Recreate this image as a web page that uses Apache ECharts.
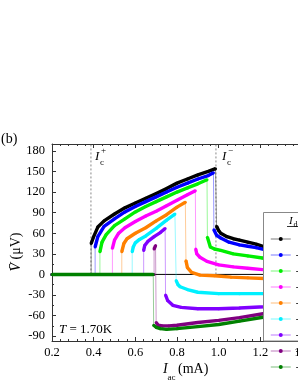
<!DOCTYPE html>
<html><head><meta charset="utf-8">
<script src="https://cdn.jsdelivr.net/npm/echarts@6/dist/echarts.min.js"></script>
<style>html,body{margin:0;padding:0;background:#fff}#c{width:298px;height:385px}</style>
</head><body><div id="c"></div>
<script>
// ---- data ----
const seriesNames  = ['0.00','-0.05','-0.10','-0.15','-0.20','-0.25','-0.30','-0.35','-0.40'];
const seriesColors = ['#000000','#0000ff','#00ee00','#ff00ff','#ff8000','#00f0ff','#8000ff','#800080','#008000'];

const black_posI = [0.388,0.40,0.42,0.45,0.50,0.55,0.60,0.65,0.70,0.75,0.80,0.85,0.90,0.95,0.985];
const black_posV = [45,55,69,78,88,97,104,111,118,125,133,139,145,150,154];
const black_negI = [0.99,1.00,1.01,1.04,1.07,1.10,1.14,1.18,1.22,1.26];
const black_negV = [70,64,60,55,52,50,47,44,40,38];

const blue_posI = [0.407,0.42,0.45,0.50,0.55,0.60,0.65,0.70,0.75,0.80,0.85,0.90,0.95,0.975];
const blue_posV = [40,55,70,81,91,99,106,113,120,127,133,139,144,148];
const blue_negI = [0.977,0.99,1.01,1.05,1.10,1.14,1.18,1.22,1.26];
const blue_negV = [65,57,53,47,43,41,39,36,34];

const green_posI = [0.43,0.44,0.46,0.50,0.55,0.60,0.65,0.70,0.75,0.80,0.85,0.90,0.944];
const green_posV = [33,47,58,71,81,91,99,106,113,120,126,132,138];
const green_negI = [0.946,0.96,0.98,1.01,1.07,1.14,1.21,1.26];
const green_negV = [54,40,37,35,30,27,24,22];

const magenta_posI = [0.49,0.50,0.52,0.55,0.60,0.65,0.70,0.75,0.80,0.85,0.888];
const magenta_posV = [38,50,60,68,77,85,92,100,108,116,122];
const magenta_negI = [0.89,0.895,0.91,0.944,1.00,1.07,1.14,1.21,1.26];
const magenta_negV = [37,30,25,19,14,11,9,7,6];

const orange_posI = [0.535,0.545,0.56,0.60,0.65,0.70,0.75,0.80,0.84];
const orange_posV = [33,45,52,60,68,78,87,98,105];
const orange_negI = [0.843,0.85,0.87,0.91,0.98,1.06,1.14,1.22,1.26];
const orange_negV = [20,10,3,-1,-2,-4,-5,-6,-6];

const cyan_posI = [0.585,0.59,0.60,0.62,0.65,0.70,0.75,0.79];
const cyan_posV = [33,40,46,51,56,67,79,88];
const cyan_negI = [0.796,0.805,0.815,0.85,0.90,1.00,1.10,1.22,1.26];
const cyan_negV = [-9,-15,-18,-22,-26,-28,-28,-28,-28];

const violet_posI = [0.64,0.645,0.66,0.69,0.72,0.743];
const violet_posV = [35,42,48,55,61,67];
const violet_negI = [0.745,0.755,0.78,0.82,0.90,1.00,1.10,1.22,1.26];
const violet_negV = [-30,-38,-45,-48,-50,-50,-49,-47,-46];

const purple_posI = [0.69,0.697];
const purple_posV = [37,42];
const purple_negI = [0.70,0.71,0.73,0.76,0.80,0.90,1.00,1.10,1.22,1.26];
const purple_negV = [-70,-74,-75,-75,-74,-70,-67,-63,-57,-56];

const dgreen_switchI = 0.686;
const dgreen_negI = [0.688,0.70,0.72,0.75,0.80,0.90,1.00,1.10,1.22,1.26];
const dgreen_negV = [-74,-77,-79,-80,-79,-76,-73,-68,-62,-60];

const icPlus = 0.387, icMinus = 0.987;
const xStart = 0.2, xEnd = 1.4;
const yTickLabels = [-90,-60,-30,0,30,60,90,120,150,180];
const yMinorTicks = [-75,-45,-15,15,45,75,105,135,165];

// ---- build ----
const zip = (a, b) => a.map((v, i) => [v, b[i]]);
const curves = [
  {pos: zip(black_posI, black_posV), neg: zip(black_negI, black_negV)},
  {pos: zip(blue_posI, blue_posV), neg: zip(blue_negI, blue_negV)},
  {pos: zip(green_posI, green_posV), neg: zip(green_negI, green_negV)},
  {pos: zip(magenta_posI, magenta_posV), neg: zip(magenta_negI, magenta_negV)},
  {pos: zip(orange_posI, orange_posV), neg: zip(orange_negI, orange_negV)},
  {pos: zip(cyan_posI, cyan_posV), neg: zip(cyan_negI, cyan_negV)},
  {pos: zip(violet_posI, violet_posV), neg: zip(violet_negI, violet_negV)},
  {pos: zip(purple_posI, purple_posV), neg: zip(purple_negI, purple_negV)},
  {pos: [], neg: zip(dgreen_negI, dgreen_negV), sw: dgreen_switchI}
];

const series = [];
series.push({type:'line', silent:true, symbol:'none', data:[[xStart,0],[xEnd,0]],
  lineStyle:{color:'#000', width:1}, z:1});
series.push({type:'line', silent:true, symbol:'none', data:[[icPlus,0],[icPlus,190]],
  lineStyle:{color:'#555', width:0.7, type:[2,2]}, z:1});
series.push({type:'line', silent:true, symbol:'none', data:[[icMinus,0],[icMinus,190]],
  lineStyle:{color:'#555', width:0.7, type:[2,2]}, z:1});

curves.forEach((c, k) => {
  const col = seriesColors[k];
  const sw = c.sw !== undefined ? c.sw : c.pos[0][0];
  const path = [[xStart,0],[sw,0]].concat(c.pos, c.neg);
  series.push({
    name: seriesNames[k], type:'line', data: path, symbol:'circle', symbolSize:3,
    showSymbol:true, color: col, itemStyle:{color: col},
    lineStyle:{color: col, width:1, opacity:0.4}, z: 2 + k*0.01
  });
  if (c.pos.length) series.push({type:'line', silent:true, symbol:'none', data:c.pos,
    lineStyle:{color: col, width:3.4}, z: 3 + k*0.01});
  series.push({type:'line', silent:true, symbol:'none', data:c.neg,
    lineStyle:{color: col, width:3.4}, z: 3 + k*0.01});
  if (c.sw !== undefined) series.push({type:'line', silent:true, symbol:'none',
    data:[[xStart,0],[c.sw,0]], lineStyle:{color: col, width:3.5}, z: 4});
});

const serif = 'Liberation Serif';
const axisCol = '#333';
const chart = echarts.init(document.getElementById('c'), null, {renderer:'canvas'});
chart.setOption({
  animation:false,
  backgroundColor:'#fff',
  grid:{left:52, top:144, right:-4, bottom:44, outerBoundsMode:'none', containLabel:false},
  xAxis:[{
    type:'value', min:xStart, max:xEnd, interval:0.2, position:'bottom',
    axisLine:{show:true, onZero:false, lineStyle:{color:axisCol, width:1}},
    axisTick:{show:true, inside:true, length:4, lineStyle:{color:axisCol}},
    minorTick:{show:true, splitNumber:5, length:2, lineStyle:{color:axisCol}},
    axisLabel:{color:'#000', fontFamily:serif, fontSize:12.5, margin:5,
      formatter: v => v.toFixed(1), showMaxLabel:true, showMinLabel:true},
    splitLine:{show:false}
  },{
    type:'value', min:xStart, max:xEnd, interval:0.2, position:'top',
    axisLine:{show:true, onZero:false, lineStyle:{color:axisCol, width:1}},
    axisTick:{show:true, inside:true, length:4, lineStyle:{color:axisCol}},
    minorTick:{show:true, splitNumber:5, length:2, lineStyle:{color:axisCol}},
    axisLabel:{show:false}, splitLine:{show:false}
  }],
  yAxis:[{
    type:'value', min:-97, max:190, position:'left',
    axisLine:{show:true, onZero:false, lineStyle:{color:axisCol, width:1}},
    axisTick:{show:true, inside:true, length:4, customValues:yTickLabels, lineStyle:{color:axisCol}},
    axisLabel:{color:'#000', fontFamily:serif, fontSize:12.5, margin:7, customValues:yTickLabels},
    splitLine:{show:false}
  },{
    type:'value', min:-97, max:190, position:'left',
    axisLine:{show:false},
    axisTick:{show:true, inside:true, length:2, customValues:yMinorTicks, lineStyle:{color:axisCol}},
    axisLabel:{show:false}, splitLine:{show:false}
  }],
  legend:{
    orient:'vertical', left:270, top:234, padding:0, itemWidth:20, itemHeight:5, itemGap:6,
    data: seriesNames, z:60, selectedMode:false,
    lineStyle:{width:1.5, opacity:0.35},
    textStyle:{fontFamily:serif, fontSize:10, lineHeight:5, color:'#000'},
    formatter: n => (n.charAt(0) === '-' ? n : '\u2007' + n) + ' mA'
  },
  graphic:[
    {type:'rect', z:50, shape:{x:263.5, y:212.5, width:60, height:128.5},
      style:{fill:'#fff', stroke:'#888', lineWidth:1}},
    {type:'text', z:61, x:289, y:221, style:{text:'I', font:'italic 11px "Liberation Serif"', fill:'#000', textVerticalAlign:'middle'}},
    {type:'text', z:61, x:293.5, y:225, style:{text:'dc', font:'8px "Liberation Serif"', fill:'#000', textVerticalAlign:'middle'}},
    {type:'line', z:61, shape:{x1:287, y1:226.5, x2:310, y2:226.5}, style:{stroke:'#000', lineWidth:0.8}},
    {type:'text', z:61, x:1, y:139, style:{text:'(b)', font:'14px "Liberation Serif"', fill:'#000', textVerticalAlign:'middle'}},
    {type:'text', z:61, x:95, y:157, style:{text:'I', font:'italic 13px "Liberation Serif"', fill:'#000', textVerticalAlign:'middle'}},
    {type:'text', z:61, x:101, y:151, style:{text:'+', font:'9px "Liberation Serif"', fill:'#000', textVerticalAlign:'middle'}},
    {type:'text', z:61, x:100, y:163, style:{text:'c', font:'9px "Liberation Serif"', fill:'#000', textVerticalAlign:'middle'}},
    {type:'text', z:61, x:222, y:157, style:{text:'I', font:'italic 13px "Liberation Serif"', fill:'#000', textVerticalAlign:'middle'}},
    {type:'text', z:61, x:228, y:151, style:{text:'\u2212', font:'9px "Liberation Serif"', fill:'#000', textVerticalAlign:'middle'}},
    {type:'text', z:61, x:227, y:163, style:{text:'c', font:'9px "Liberation Serif"', fill:'#000', textVerticalAlign:'middle'}},
    {type:'text', z:61, x:59, y:330, style:{text:'{i|T}{n| = 1.70K}', fill:'#000', textVerticalAlign:'middle',
      rich:{i:{fontFamily:serif, fontStyle:'italic', fontSize:13}, n:{fontFamily:serif, fontSize:13}}}},
    {type:'text', z:61, x:163, y:369, style:{text:'I', font:'italic 14px "Liberation Serif"', fill:'#000', textVerticalAlign:'middle'}},
    {type:'text', z:61, x:167.5, y:377.5, style:{text:'ac', font:'9px "Liberation Serif"', fill:'#000', textVerticalAlign:'middle'}},
    {type:'text', z:61, x:178, y:369, style:{text:'(mA)', font:'14px "Liberation Serif"', fill:'#000', textVerticalAlign:'middle'}},
    {type:'text', z:61, x:16, y:252, rotation:Math.PI/2, style:{text:'{i|V\u0304}{n| (\u03bcV)}', fill:'#000',
      textAlign:'center', textVerticalAlign:'middle',
      rich:{i:{fontFamily:serif, fontStyle:'italic', fontSize:14}, n:{fontFamily:serif, fontSize:14}}}}
  ],
  series: series
});
</script></body></html>
